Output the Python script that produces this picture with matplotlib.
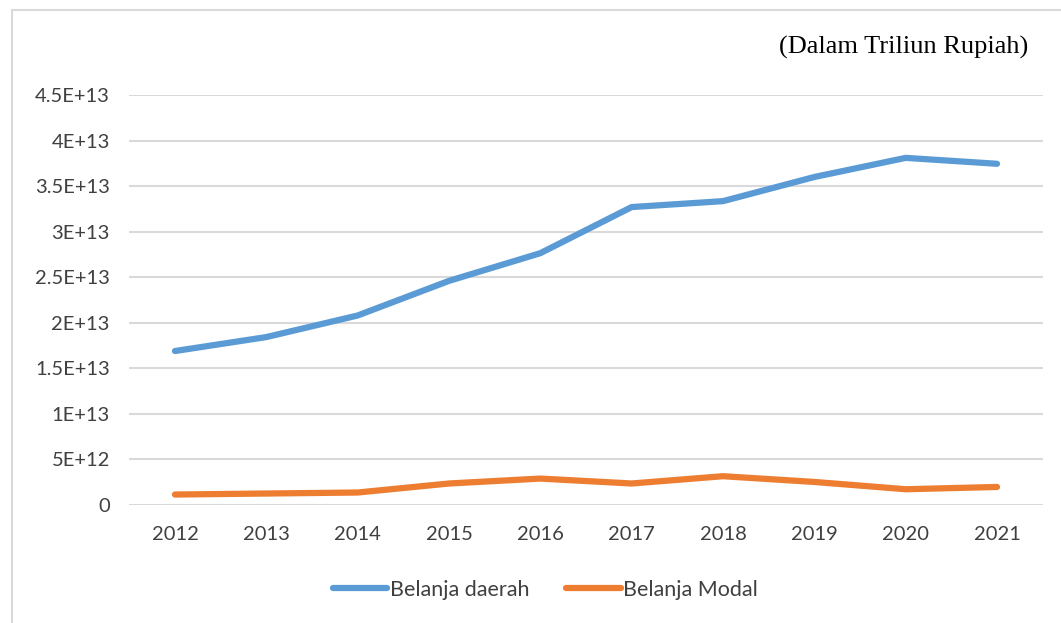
import numpy as np
import matplotlib.pyplot as plt
from matplotlib.patches import Rectangle

years = ['2012', '2013', '2014', '2015', '2016', '2017', '2018', '2019', '2020', '2021']
belanja_daerah = [1.69e13, 1.843e13, 2.08e13, 2.46e13, 2.764e13, 3.27e13, 3.335e13, 3.60e13, 3.81e13, 3.745e13]
belanja_modal = [0.115e13, 0.126e13, 0.137e13, 0.236e13, 0.29e13, 0.236e13, 0.316e13, 0.253e13, 0.173e13, 0.198e13]
y_ticks = [0, 5e12, 1e13, 1.5e13, 2e13, 2.5e13, 3e13, 3.5e13, 4e13, 4.5e13]
y_labels = ['0', '5E+12', '1E+13', '1.5E+13', '2E+13', '2.5E+13', '3E+13', '3.5E+13', '4E+13', '4.5E+13']

W, H = 1061, 623
fig = plt.figure(figsize=(W / 100, H / 100), dpi=100)
fig.patches.append(Rectangle((12 / W, -0.1), 1.2, 1.1 - 10 / H, transform=fig.transFigure,
                             fill=False, edgecolor='#d9d9d9', linewidth=1.5))

ax = fig.add_axes([129.3 / W, 1 - 505 / H, (1042.7 - 129.3) / W, (505 - 95) / H])
x = np.arange(len(years))
ax.plot(x, belanja_daerah, color='#5B9BD5', linewidth=4.5, solid_capstyle='round', label='Belanja daerah')
ax.plot(x, belanja_modal, color='#ED7D31', linewidth=4.5, solid_capstyle='round', label='Belanja Modal')

ax.set_xlim(-0.5, len(years) - 0.5)
ax.set_ylim(0, 4.5e13)
ax.set_xticks(x)
ax.set_xticklabels(years)
ax.set_yticks(y_ticks)
ax.set_yticklabels(y_labels)
ax.grid(axis='y', color='#d9d9d9', linewidth=1.5)
ax.set_axisbelow(True)
for s in ax.spines.values():
    s.set_visible(False)
ax.tick_params(length=0, labelsize=14.5, labelcolor='#404040', pad=14)
ax.tick_params(axis='x', pad=15)
fam = ['Lato', 'DejaVu Sans']
for lbl in ax.get_xticklabels() + ax.get_yticklabels():
    lbl.set_family(fam)

fig.text(1028 / W, 1 - 47 / H, '(Dalam Triliun Rupiah)', ha='right', va='center',
         family='Liberation Serif', fontsize=19, color='black')

leg = fig.legend(loc='center', bbox_to_anchor=(545 / W, 1 - 590 / H), ncol=2, frameon=False,
                 prop={'family': fam, 'size': 15.5}, handlelength=2.55, handletextpad=0.1,
                 columnspacing=1.7)
for t in leg.get_texts():
    t.set_color('#404040')

fig.savefig('out.png', dpi=100)
